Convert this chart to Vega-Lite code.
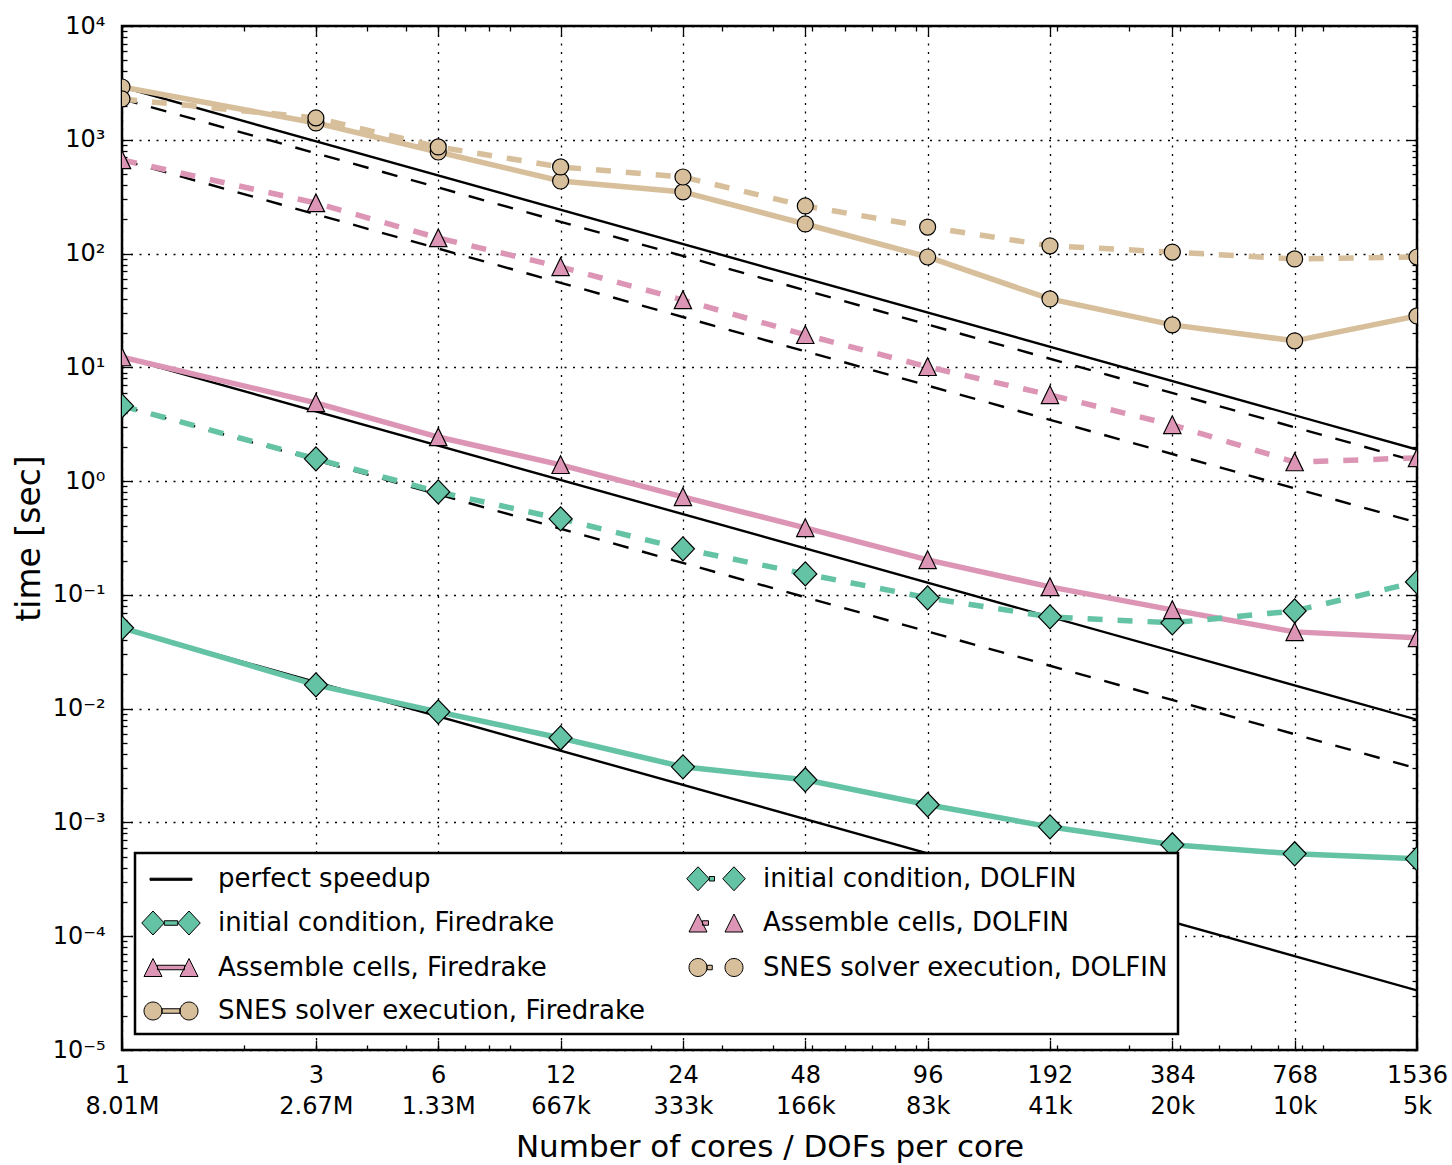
{
  "$schema": "https://vega.github.io/schema/vega-lite/v6.json",
  "width": 1295,
  "height": 1024,
  "autosize": {"type": "none"},
  "padding": {"left": 122, "top": 26, "right": 35, "bottom": 115},
  "background": "white",
  "config": {
    "view": {"stroke": "black", "strokeWidth": 2.5, "fill": "white"},
    "font": "DejaVu Sans",
    "axis": {
      "labelFont": "DejaVu Sans", "titleFont": "DejaVu Sans", "labelColor": "black", "titleColor": "black",
      "titleFontWeight": "normal", "domain": false, "labelFlush": false, "labelOverlap": false, "labelBound": false,
      "tickColor": "black", "tickWidth": 1.3, "gridColor": "black", "gridDash": [2, 6.5], "gridWidth": 1.3, "gridOpacity": 1
    }
  },
  "data": {
    "values": [
      {"series": "initial condition, Firedrake", "cores": 1, "time": 0.0513},
      {"series": "initial condition, Firedrake", "cores": 3, "time": 0.0162},
      {"series": "initial condition, Firedrake", "cores": 6, "time": 0.00938},
      {"series": "initial condition, Firedrake", "cores": 12, "time": 0.00553},
      {"series": "initial condition, Firedrake", "cores": 24, "time": 0.00308},
      {"series": "initial condition, Firedrake", "cores": 48, "time": 0.00237},
      {"series": "initial condition, Firedrake", "cores": 96, "time": 0.00143},
      {"series": "initial condition, Firedrake", "cores": 192, "time": 0.000915},
      {"series": "initial condition, Firedrake", "cores": 384, "time": 0.000636},
      {"series": "initial condition, Firedrake", "cores": 768, "time": 0.00053},
      {"series": "initial condition, Firedrake", "cores": 1536, "time": 0.000479},
      {"series": "initial condition, DOLFIN", "cores": 1, "time": 4.58},
      {"series": "initial condition, DOLFIN", "cores": 3, "time": 1.57},
      {"series": "initial condition, DOLFIN", "cores": 6, "time": 0.804},
      {"series": "initial condition, DOLFIN", "cores": 12, "time": 0.466},
      {"series": "initial condition, DOLFIN", "cores": 24, "time": 0.254},
      {"series": "initial condition, DOLFIN", "cores": 48, "time": 0.153},
      {"series": "initial condition, DOLFIN", "cores": 96, "time": 0.0942},
      {"series": "initial condition, DOLFIN", "cores": 192, "time": 0.0641},
      {"series": "initial condition, DOLFIN", "cores": 384, "time": 0.0568},
      {"series": "initial condition, DOLFIN", "cores": 768, "time": 0.0723},
      {"series": "initial condition, DOLFIN", "cores": 1536, "time": 0.13},
      {"series": "Assemble cells, Firedrake", "cores": 1, "time": 12.3},
      {"series": "Assemble cells, Firedrake", "cores": 3, "time": 4.87},
      {"series": "Assemble cells, Firedrake", "cores": 6, "time": 2.44},
      {"series": "Assemble cells, Firedrake", "cores": 12, "time": 1.39},
      {"series": "Assemble cells, Firedrake", "cores": 24, "time": 0.726},
      {"series": "Assemble cells, Firedrake", "cores": 48, "time": 0.388},
      {"series": "Assemble cells, Firedrake", "cores": 96, "time": 0.203},
      {"series": "Assemble cells, Firedrake", "cores": 192, "time": 0.1175},
      {"series": "Assemble cells, Firedrake", "cores": 384, "time": 0.0738},
      {"series": "Assemble cells, Firedrake", "cores": 768, "time": 0.0473},
      {"series": "Assemble cells, Firedrake", "cores": 1536, "time": 0.0419},
      {"series": "Assemble cells, DOLFIN", "cores": 1, "time": 664},
      {"series": "Assemble cells, DOLFIN", "cores": 3, "time": 278},
      {"series": "Assemble cells, DOLFIN", "cores": 6, "time": 137},
      {"series": "Assemble cells, DOLFIN", "cores": 12, "time": 76.3},
      {"series": "Assemble cells, DOLFIN", "cores": 24, "time": 39.1},
      {"series": "Assemble cells, DOLFIN", "cores": 48, "time": 19.3},
      {"series": "Assemble cells, DOLFIN", "cores": 96, "time": 10.1},
      {"series": "Assemble cells, DOLFIN", "cores": 192, "time": 5.72},
      {"series": "Assemble cells, DOLFIN", "cores": 384, "time": 3.12},
      {"series": "Assemble cells, DOLFIN", "cores": 768, "time": 1.47},
      {"series": "Assemble cells, DOLFIN", "cores": 1536, "time": 1.6},
      {"series": "SNES solver execution, Firedrake", "cores": 1, "time": 2911},
      {"series": "SNES solver execution, Firedrake", "cores": 3, "time": 1406},
      {"series": "SNES solver execution, Firedrake", "cores": 6, "time": 781},
      {"series": "SNES solver execution, Firedrake", "cores": 12, "time": 434},
      {"series": "SNES solver execution, Firedrake", "cores": 24, "time": 348},
      {"series": "SNES solver execution, Firedrake", "cores": 48, "time": 182},
      {"series": "SNES solver execution, Firedrake", "cores": 96, "time": 93.3},
      {"series": "SNES solver execution, Firedrake", "cores": 192, "time": 39.9},
      {"series": "SNES solver execution, Firedrake", "cores": 384, "time": 23.6},
      {"series": "SNES solver execution, Firedrake", "cores": 768, "time": 17.1},
      {"series": "SNES solver execution, Firedrake", "cores": 1536, "time": 28.3},
      {"series": "SNES solver execution, DOLFIN", "cores": 1, "time": 2284},
      {"series": "SNES solver execution, DOLFIN", "cores": 3, "time": 1555},
      {"series": "SNES solver execution, DOLFIN", "cores": 6, "time": 865},
      {"series": "SNES solver execution, DOLFIN", "cores": 12, "time": 577},
      {"series": "SNES solver execution, DOLFIN", "cores": 24, "time": 471},
      {"series": "SNES solver execution, DOLFIN", "cores": 48, "time": 262},
      {"series": "SNES solver execution, DOLFIN", "cores": 96, "time": 171},
      {"series": "SNES solver execution, DOLFIN", "cores": 192, "time": 117},
      {"series": "SNES solver execution, DOLFIN", "cores": 384, "time": 103},
      {"series": "SNES solver execution, DOLFIN", "cores": 768, "time": 89.7},
      {"series": "SNES solver execution, DOLFIN", "cores": 1536, "time": 93.3},
      {"series": "perfect speedup", "ref": "SNES solver execution, Firedrake", "cores": 1, "time": 2911},
      {"series": "perfect speedup", "ref": "SNES solver execution, Firedrake", "cores": 1536, "time": 1.895},
      {"series": "perfect speedup", "ref": "Assemble cells, Firedrake", "cores": 1, "time": 12.3},
      {"series": "perfect speedup", "ref": "Assemble cells, Firedrake", "cores": 1536, "time": 0.00801},
      {"series": "perfect speedup", "ref": "initial condition, Firedrake", "cores": 1, "time": 0.0513},
      {"series": "perfect speedup", "ref": "initial condition, Firedrake", "cores": 1536, "time": 0.0000334},
      {"series": "perfect speedup", "ref": "SNES solver execution, DOLFIN", "cores": 1, "time": 2284},
      {"series": "perfect speedup", "ref": "SNES solver execution, DOLFIN", "cores": 1536, "time": 1.487},
      {"series": "perfect speedup", "ref": "Assemble cells, DOLFIN", "cores": 1, "time": 664},
      {"series": "perfect speedup", "ref": "Assemble cells, DOLFIN", "cores": 1536, "time": 0.432},
      {"series": "perfect speedup", "ref": "initial condition, DOLFIN", "cores": 1, "time": 4.58},
      {"series": "perfect speedup", "ref": "initial condition, DOLFIN", "cores": 1536, "time": 0.00298}
    ]
  },
  "resolve": {"axis": {"x": "independent", "y": "independent"}},
  "layer": [
    {
      "transform": [{"filter": "datum.series == 'perfect speedup' && indexof(datum.ref, 'Firedrake') >= 0"}],
      "mark": {"type": "line", "color": "black", "strokeWidth": 2.4, "clip": true},
      "encoding": {
        "x": {"field": "cores", "type": "quantitative", "scale": {"type": "log", "domain": [1, 1536], "nice": false},
          "axis": {"orient": "bottom", "values": [1, 3, 6, 12, 24, 48, 96, 192, 384, 768, 1536],
            "labelExpr": "datum.value == 1 ? ['1','8.01M'] : datum.value == 3 ? ['3','2.67M'] : datum.value == 6 ? ['6','1.33M'] : datum.value == 12 ? ['12','667k'] : datum.value == 24 ? ['24','333k'] : datum.value == 48 ? ['48','166k'] : datum.value == 96 ? ['96','83k'] : datum.value == 192 ? ['192','41k'] : datum.value == 384 ? ['384','20k'] : datum.value == 768 ? ['768','10k'] : ['1536','5k']",
            "ticks": false, "grid": true, "labelFontSize": 24, "labelPadding": 13.5, "labelBaseline": "top", "labelLineHeight": 30.5, "labelAlign": "center",
            "title": "Number of cores / DOFs per core", "titleFontSize": 31, "titlePadding": 14}},
        "y": {"field": "time", "type": "quantitative", "scale": {"type": "log", "domain": [0.00001, 10000], "nice": false},
          "axis": {"orient": "left", "values": [0.00001, 0.0001, 0.001, 0.01, 0.1, 1, 10, 100, 1000, 10000],
            "labelExpr": "'10' + ['⁻⁵','⁻⁴','⁻³','⁻²','⁻¹','⁰','¹','²','³','⁴'][round(log(datum.value)/LN10) + 5]",
            "ticks": false, "grid": true, "labelFontSize": 24, "labelPadding": 17, "labelBaseline": "middle", "labelAlign": "right",
            "title": "time [sec]", "titleFontSize": 33, "titlePadding": 6}},
        "detail": {"field": "ref", "type": "nominal"}
      }
    },
    {
      "transform": [{"filter": "datum.series == 'perfect speedup' && indexof(datum.ref, 'DOLFIN') >= 0"}],
      "mark": {"type": "line", "color": "black", "strokeWidth": 2.4, "strokeDash": [16, 14], "clip": true},
      "encoding": {
        "x": {"field": "cores", "type": "quantitative", "scale": {"type": "log", "domain": [1, 1536], "nice": false},
          "axis": {"orient": "bottom", "values": [1, 3, 6, 12, 24, 48, 96, 192, 384, 768, 1536], "labels": false, "grid": false, "ticks": true, "tickSize": -10, "title": null}},
        "y": {"field": "time", "type": "quantitative", "scale": {"type": "log", "domain": [0.00001, 10000], "nice": false},
          "axis": {"orient": "left", "values": [0.00001, 0.0001, 0.001, 0.01, 0.1, 1, 10, 100, 1000, 10000], "labels": false, "grid": false, "ticks": true, "tickSize": -10, "title": null}},
        "detail": {"field": "ref", "type": "nominal"}
      }
    },
    {
      "transform": [{"filter": "indexof(datum.series, 'Firedrake') >= 0"}],
      "mark": {"type": "line", "strokeWidth": 5.5, "clip": true},
      "encoding": {
        "x": {"field": "cores", "type": "quantitative", "scale": {"type": "log", "domain": [1, 1536], "nice": false},
          "axis": {"orient": "top", "values": [1, 3, 6, 12, 24, 48, 96, 192, 384, 768, 1536], "labels": false, "grid": false, "ticks": true, "tickSize": -10, "title": null}},
        "y": {"field": "time", "type": "quantitative", "scale": {"type": "log", "domain": [0.00001, 10000], "nice": false},
          "axis": {"orient": "right", "values": [0.00001, 0.0001, 0.001, 0.01, 0.1, 1, 10, 100, 1000, 10000], "labels": false, "grid": false, "ticks": true, "tickSize": -10, "title": null}},
        "stroke": {"field": "series", "type": "nominal", "legend": null,
          "scale": {"domain": ["initial condition, Firedrake", "initial condition, DOLFIN", "Assemble cells, Firedrake", "Assemble cells, DOLFIN", "SNES solver execution, Firedrake", "SNES solver execution, DOLFIN"],
            "range": ["#64c3a4", "#64c3a4", "#dd95b5", "#dd95b5", "#d8bf9b", "#d8bf9b"]}}
      }
    },
    {
      "transform": [{"filter": "indexof(datum.series, 'DOLFIN') >= 0"}],
      "mark": {"type": "line", "strokeWidth": 5.5, "strokeDash": [15, 15], "clip": true},
      "encoding": {
        "x": {"field": "cores", "type": "quantitative", "scale": {"type": "log", "domain": [1, 1536], "nice": false},
          "axis": {"orient": "bottom", "values": [2, 3, 4, 5, 6, 7, 8, 9, 20, 30, 40, 50, 60, 70, 80, 90, 200, 300, 400, 500, 600, 700, 800, 900], "labels": false, "grid": false, "ticks": true, "tickSize": -5, "title": null}},
        "y": {"field": "time", "type": "quantitative", "scale": {"type": "log", "domain": [0.00001, 10000], "nice": false},
          "axis": {"orient": "left", "values": [0.00002, 0.00003, 0.00004, 0.00005, 0.00006, 0.00007, 0.00008, 0.00009, 0.0002, 0.0003, 0.0004, 0.0005, 0.0006, 0.0007, 0.0008, 0.0009, 0.002, 0.003, 0.004, 0.005, 0.006, 0.007, 0.008, 0.009, 0.02, 0.03, 0.04, 0.05, 0.06, 0.07, 0.08, 0.09, 0.2, 0.3, 0.4, 0.5, 0.6, 0.7, 0.8, 0.9, 2, 3, 4, 5, 6, 7, 8, 9, 20, 30, 40, 50, 60, 70, 80, 90, 200, 300, 400, 500, 600, 700, 800, 900, 2000, 3000, 4000, 5000, 6000, 7000, 8000, 9000], "labels": false, "grid": false, "ticks": true, "tickSize": -5, "title": null}},
        "stroke": {"field": "series", "type": "nominal", "legend": null,
          "scale": {"domain": ["initial condition, Firedrake", "initial condition, DOLFIN", "Assemble cells, Firedrake", "Assemble cells, DOLFIN", "SNES solver execution, Firedrake", "SNES solver execution, DOLFIN"],
            "range": ["#64c3a4", "#64c3a4", "#dd95b5", "#dd95b5", "#d8bf9b", "#d8bf9b"]}}
      }
    },
    {
      "transform": [{"filter": "indexof(datum.series, 'initial') >= 0"}],
      "mark": {"type": "point", "shape": "M-1,0L0,-1.05L1,0L0,1.05Z", "size": 529, "opacity": 1, "stroke": "black", "strokeWidth": 1.2, "clip": true},
      "encoding": {
        "x": {"field": "cores", "type": "quantitative", "scale": {"type": "log", "domain": [1, 1536], "nice": false},
          "axis": {"orient": "top", "values": [2, 3, 4, 5, 6, 7, 8, 9, 20, 30, 40, 50, 60, 70, 80, 90, 200, 300, 400, 500, 600, 700, 800, 900], "labels": false, "grid": false, "ticks": true, "tickSize": -5, "title": null}},
        "y": {"field": "time", "type": "quantitative", "scale": {"type": "log", "domain": [0.00001, 10000], "nice": false},
          "axis": {"orient": "right", "values": [0.00002, 0.00003, 0.00004, 0.00005, 0.00006, 0.00007, 0.00008, 0.00009, 0.0002, 0.0003, 0.0004, 0.0005, 0.0006, 0.0007, 0.0008, 0.0009, 0.002, 0.003, 0.004, 0.005, 0.006, 0.007, 0.008, 0.009, 0.02, 0.03, 0.04, 0.05, 0.06, 0.07, 0.08, 0.09, 0.2, 0.3, 0.4, 0.5, 0.6, 0.7, 0.8, 0.9, 2, 3, 4, 5, 6, 7, 8, 9, 20, 30, 40, 50, 60, 70, 80, 90, 200, 300, 400, 500, 600, 700, 800, 900, 2000, 3000, 4000, 5000, 6000, 7000, 8000, 9000], "labels": false, "grid": false, "ticks": true, "tickSize": -5, "title": null}},
        "fill": {"field": "series", "type": "nominal", "legend": null,
          "scale": {"domain": ["initial condition, Firedrake", "initial condition, DOLFIN", "Assemble cells, Firedrake", "Assemble cells, DOLFIN", "SNES solver execution, Firedrake", "SNES solver execution, DOLFIN"],
            "range": ["#64c3a4", "#64c3a4", "#dd95b5", "#dd95b5", "#d8bf9b", "#d8bf9b"]}}
      }
    },
    {
      "transform": [{"filter": "indexof(datum.series, 'Assemble') >= 0"}],
      "mark": {"type": "point", "shape": "M0,-1.05L-1,1L1,1Z", "size": 300, "opacity": 1, "stroke": "black", "strokeWidth": 1.2, "clip": true},
      "encoding": {
        "x": {"field": "cores", "type": "quantitative", "scale": {"type": "log", "domain": [1, 1536], "nice": false}, "axis": null},
        "y": {"field": "time", "type": "quantitative", "scale": {"type": "log", "domain": [0.00001, 10000], "nice": false}, "axis": null},
        "fill": {"field": "series", "type": "nominal", "legend": null,
          "scale": {"domain": ["initial condition, Firedrake", "initial condition, DOLFIN", "Assemble cells, Firedrake", "Assemble cells, DOLFIN", "SNES solver execution, Firedrake", "SNES solver execution, DOLFIN"],
            "range": ["#64c3a4", "#64c3a4", "#dd95b5", "#dd95b5", "#d8bf9b", "#d8bf9b"]}}
      }
    },
    {
      "transform": [{"filter": "indexof(datum.series, 'SNES') >= 0"}],
      "mark": {"type": "point", "shape": "circle", "size": 256, "opacity": 1, "stroke": "black", "strokeWidth": 1.2, "clip": true},
      "encoding": {
        "x": {"field": "cores", "type": "quantitative", "scale": {"type": "log", "domain": [1, 1536], "nice": false}, "axis": null},
        "y": {"field": "time", "type": "quantitative", "scale": {"type": "log", "domain": [0.00001, 10000], "nice": false}, "axis": null},
        "fill": {"field": "series", "type": "nominal", "legend": null,
          "scale": {"domain": ["initial condition, Firedrake", "initial condition, DOLFIN", "Assemble cells, Firedrake", "Assemble cells, DOLFIN", "SNES solver execution, Firedrake", "SNES solver execution, DOLFIN"],
            "range": ["#64c3a4", "#64c3a4", "#dd95b5", "#dd95b5", "#d8bf9b", "#d8bf9b"]}}
      }
    },
    {
      "mark": {"type": "point", "filled": true, "opacity": 0, "stroke": "black", "strokeWidth": 1, "clip": true},
      "encoding": {
        "x": {"field": "cores", "type": "quantitative", "scale": {"type": "log", "domain": [1, 1536], "nice": false}, "axis": null},
        "y": {"field": "time", "type": "quantitative", "scale": {"type": "log", "domain": [0.00001, 10000], "nice": false}, "axis": null},
        "color": {"field": "series", "type": "nominal",
          "scale": {"domain": ["perfect speedup", "initial condition, Firedrake", "Assemble cells, Firedrake", "SNES solver execution, Firedrake", "initial condition, DOLFIN", "Assemble cells, DOLFIN", "SNES solver execution, DOLFIN"],
            "range": ["#000000", "#64c3a4", "#dd95b5", "#d8bf9b", "#64c3a4", "#dd95b5", "#d8bf9b"]},
          "legend": {"title": null, "orient": "none", "legendX": 13, "legendY": 827, "direction": "vertical", "columns": 2,
            "fillColor": "white", "strokeColor": "black", "padding": 10, "cornerRadius": 0, "rowPadding": 14.5, "columnPadding": 38,
            "symbolSize": 900, "symbolOffset": 10.5, "labelOffset": 31.5, "labelFontSize": 26, "labelFont": "DejaVu Sans", "labelColor": "black", "labelLimit": 700,
            "symbolStrokeColor": "black", "symbolStrokeWidth": 1, "symbolOpacity": 1,
            "encode": {"legend": {"update": {"strokeWidth": {"value": 2.5}}}}}},
        "shape": {"field": "series", "type": "nominal",
          "scale": {"domain": ["perfect speedup", "initial condition, Firedrake", "Assemble cells, Firedrake", "SNES solver execution, Firedrake", "initial condition, DOLFIN", "Assemble cells, DOLFIN", "SNES solver execution, DOLFIN"],
            "range": [
              "M-1.4,-0.07L1.4,-0.07L1.4,0.07L-1.4,0.07Z",
              "M-1.95,0L-1.2,-0.8L-0.45,0L-1.2,0.8Z M0.45,0L1.2,-0.8L1.95,0L1.2,0.8Z M-0.45,-0.15L0.45,-0.15L0.45,0.15L-0.45,0.15Z",
              "M-1.2,-0.6L-1.8,0.6L-0.6,0.6Z M1.2,-0.6L0.6,0.6L1.8,0.6Z M-0.9,-0.15L0.9,-0.15L0.9,0.15L-0.9,0.15Z",
              "M-1.8,0A0.6,0.6,0,1,1,-0.6,0A0.6,0.6,0,1,1,-1.8,0Z M0.6,0A0.6,0.6,0,1,1,1.8,0A0.6,0.6,0,1,1,0.6,0Z M-0.6,-0.15L0.6,-0.15L0.6,0.15L-0.6,0.15Z",
              "M-1.95,0L-1.2,-0.8L-0.45,0L-1.2,0.8Z M0.45,0L1.2,-0.8L1.95,0L1.2,0.8Z M-0.45,-0.15L-0.1,-0.15L-0.1,0.15L-0.45,0.15Z",
              "M-1.2,-0.6L-1.8,0.6L-0.6,0.6Z M1.2,-0.6L0.6,0.6L1.8,0.6Z M-0.9,-0.15L-0.5,-0.15L-0.5,0.15L-0.9,0.15Z",
              "M-1.8,0A0.6,0.6,0,1,1,-0.6,0A0.6,0.6,0,1,1,-1.8,0Z M0.6,0A0.6,0.6,0,1,1,1.8,0A0.6,0.6,0,1,1,0.6,0Z M-0.6,-0.15L-0.25,-0.15L-0.25,0.15L-0.6,0.15Z"
            ]},
          "legend": {"title": null, "orient": "none", "legendX": 13, "legendY": 827, "direction": "vertical", "columns": 2,
            "fillColor": "white", "strokeColor": "black", "padding": 10, "cornerRadius": 0, "rowPadding": 14.5, "columnPadding": 38,
            "symbolSize": 900, "symbolOffset": 10.5, "labelOffset": 31.5, "labelFontSize": 26, "labelFont": "DejaVu Sans", "labelColor": "black", "labelLimit": 700,
            "symbolStrokeColor": "black", "symbolStrokeWidth": 1, "symbolOpacity": 1,
            "encode": {"legend": {"update": {"strokeWidth": {"value": 2.5}}}}}}
      }
    }
  ]
}
